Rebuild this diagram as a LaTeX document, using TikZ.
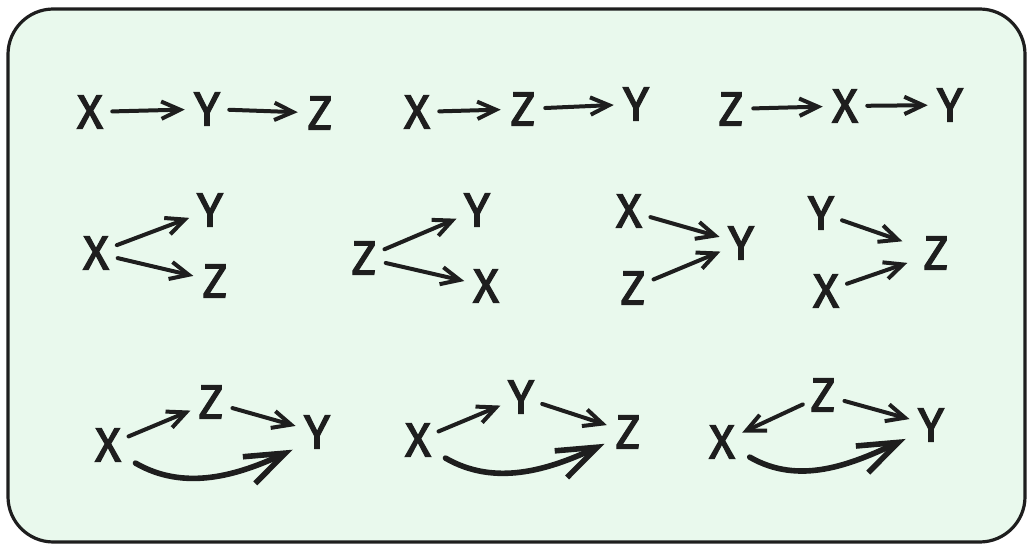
\documentclass[tikz,border=0pt]{standalone}
\usepackage{fontspec}
\newfontfamily\hand{Fira Sans}[FakeBold=2.5]
\usetikzlibrary{arrows.meta}
\definecolor{boxfill}{RGB}{233,249,237}
\definecolor{ink}{RGB}{30,30,30}
\tikzset{
  var/.style={circle,inner sep=0pt,minimum size=33pt,text=ink,
    font=\hand\fontsize{36}{40}\selectfont},
  edge/.style={draw=ink,line width=3pt,line cap=round,line join=round,
    -{Straight Barb[length=14pt,width=13pt]}},
  bigedge/.style={draw=ink,line width=4.2pt,line cap=round,line join=round,
    -{Straight Barb[length=30pt,width=22pt]}},
}
\begin{document}
\begin{tikzpicture}[x=0.75pt,y=0.75pt]
\useasboundingbox (0,0) rectangle (1028,-545);
\draw[draw=ink,line width=2.4pt,fill=boxfill,rounded corners=34pt]
  (8,-9) rectangle (1025,-542);

% row 1
\node[var] (a1) at (90,-112) {X};
\node[var] (a2) at (207,-109) {Y};
\node[var] (a3) at (320,-113) {Z};
\node[var] (b1) at (417,-112) {X};
\node[var] (b2) at (523,-109) {Z};
\node[var] (b3) at (636,-104) {Y};
\node[var] (c1) at (731,-109) {Z};
\node[var] (c2) at (845,-106) {X};
\node[var] (c3) at (950,-105) {Y};
\draw[edge] (a1) -- (a2);
\draw[edge] (a2) -- (a3);
\draw[edge] (b1) -- (b2);
\draw[edge] (b2) -- (b3);
\draw[edge] (c1) -- (c2);
\draw[edge] (c2) -- (c3);

% row 2
\node[var] (d1) at (96,-253) {X};
\node[var] (d2) at (210,-210) {Y};
\node[var] (d3) at (215,-281) {Z};
\node[var] (e1) at (364,-258) {Z};
\node[var] (e2) at (477,-210) {Y};
\node[var] (e3) at (486,-286) {X};
\node[var] (f1) at (629,-211) {X};
\node[var] (f2) at (741,-243) {Y};
\node[var] (f3) at (633,-288) {Z};
\node[var] (g1) at (821,-213) {Y};
\node[var] (g2) at (936,-253) {Z};
\node[var] (g3) at (826,-291) {X};
\draw[edge] (d1) -- (d2);
\draw[edge] (d1) -- (d3);
\draw[edge] (e1) -- (e2);
\draw[edge] (e1) -- (e3);
\draw[edge] (f1) -- (f2);
\draw[edge] (f3) -- (f2);
\draw[edge,shorten >=10pt] (g1) -- (g2);
\draw[edge,shorten >=6pt] (g3) -- (g2);

% row 3
\node[var] (h1) at (108,-445) {X};
\node[var] (h2) at (211,-402) {Z};
\node[var] (h3) at (317,-432) {Y};
\node[var] (i1) at (418,-440) {X};
\node[var] (i2) at (521,-397) {Y};
\node[var] (i3) at (628,-432) {Z};
\node[var] (j1) at (722,-442) {X};
\node[var] (j2) at (823,-395) {Z};
\node[var] (j3) at (931,-425) {Y};
\draw[edge] (h1) -- (h2);
\draw[edge] (h2) -- (h3);
\draw[edge] (i1) -- (i2);
\draw[edge] (i2) -- (i3);
\draw[edge] (j2) -- (j1);
\draw[edge] (j2) -- (j3);
\draw[bigedge,shorten <=8pt,shorten >=6pt] (h1.-35) to[out=-30,in=205] (h3.-140);
\draw[bigedge,shorten <=8pt,shorten >=3pt] (i1.-35) to[out=-30,in=205] (i3.-153);
\draw[bigedge,shorten <=7pt,shorten >=5pt] (j1.-28) to[out=-30,in=205] (j3.-150);
\end{tikzpicture}
\end{document}
